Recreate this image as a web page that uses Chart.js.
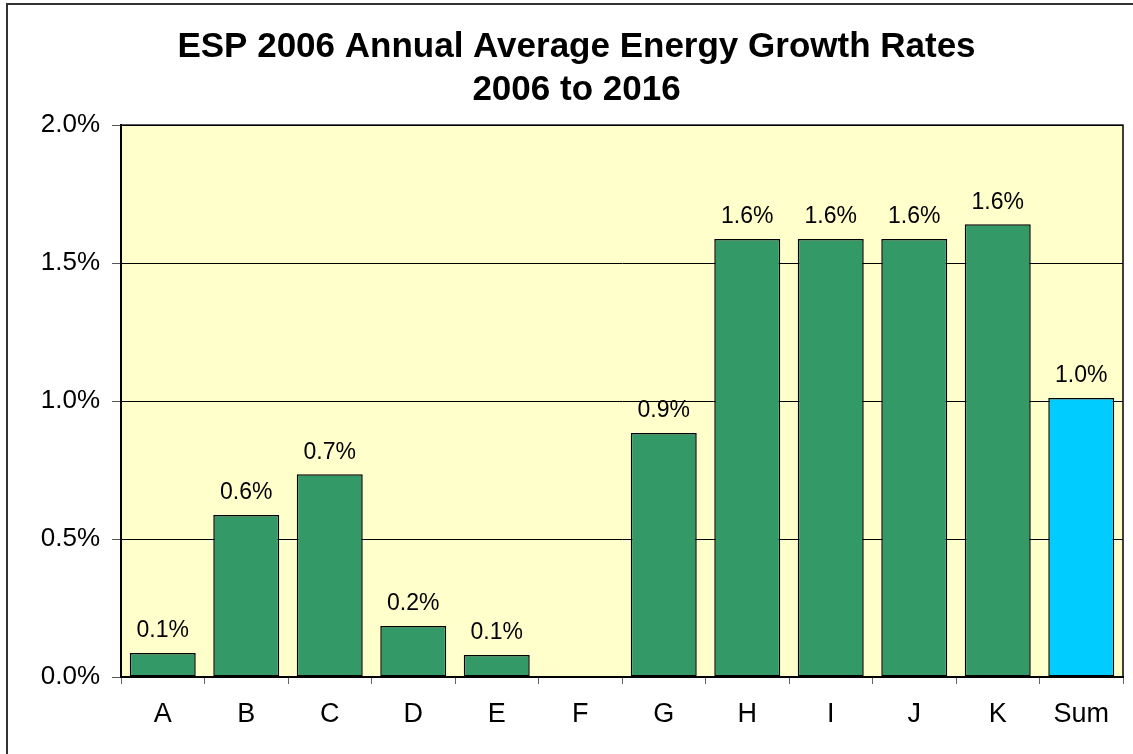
<!DOCTYPE html>
<html>
<head>
<meta charset="utf-8">
<script src="https://cdn.jsdelivr.net/npm/chart.js@4/dist/chart.umd.min.js"></script>
<style>
  html, body { margin: 0; padding: 0; background: #fff; }
  #wrap { width: 1133px; height: 754px; }
</style>
</head>
<body>
<div id="wrap"><canvas id="chart" width="1133" height="754"></canvas></div>
<script>
const categories = ["A", "B", "C", "D", "E", "F", "G", "H", "I", "J", "K", "Sum"];
const growthRates = [0.087, 0.587, 0.735, 0.185, 0.08, null, 0.884, 1.587, 1.587, 1.587, 1.641, 1.011];
const barColors = ["#339966", "#339966", "#339966", "#339966", "#339966", "#339966",
  "#339966", "#339966", "#339966", "#339966", "#339966", "#00CCFF"];
const titleLines = ["ESP 2006 Annual Average Energy Growth Rates", "2006 to 2016"];

const font = "'Liberation Sans', Arial, sans-serif";

// plot background, frame and value labels
const decor = {
  id: "decor",
  beforeDraw(chart) {
    const { ctx, chartArea: a } = chart;
    ctx.save();
    ctx.strokeStyle = "#333";
    ctx.lineWidth = 2;
    ctx.strokeRect(7, 4, 1140, 760);
    ctx.fillStyle = "#FFFFCC";
    ctx.fillRect(a.left, a.top, a.right - a.left, a.bottom - a.top);
    ctx.restore();
  },
  afterDatasetsDraw(chart) {
    const { ctx, chartArea: a } = chart;
    ctx.save();
    ctx.strokeStyle = "#000";
    ctx.lineWidth = 1.5;
    ctx.strokeRect(a.left, a.top, a.right - a.left, a.bottom - a.top);
    ctx.fillStyle = "#000";
    ctx.font = "23px " + font;
    ctx.textAlign = "center";
    ctx.textBaseline = "middle";
    chart.getDatasetMeta(0).data.forEach((bar, i) => {
      const v = growthRates[i];
      if (v == null) return;
      ctx.fillText(v.toFixed(1) + "%", bar.x, bar.y - 22);
    });
    ctx.restore();
  }
};

new Chart(document.getElementById("chart"), {
  type: "bar",
  data: {
    labels: categories,
    datasets: [{
      data: growthRates,
      backgroundColor: barColors,
      borderColor: "#000",
      borderWidth: 1.5,
      borderSkipped: false,
      barPercentage: 0.79,
      categoryPercentage: 1
    }]
  },
  options: {
    responsive: false,
    animation: false,
    layout: { padding: { left: 30, right: 10, top: 0, bottom: 0 } },
    plugins: {
      legend: { display: false },
      tooltip: { enabled: false },
      title: {
        display: true,
        text: titleLines,
        color: "#000",
        font: { family: font, size: 35, weight: "bold", lineHeight: 1.23 },
        padding: { top: 26, bottom: 13 }
      }
    },
    scales: {
      x: {
        grid: { drawOnChartArea: false, drawTicks: true, tickLength: 7, tickColor: "#666" },
        border: { color: "#000", width: 2 },
        ticks: { color: "#000", font: { family: font, size: 27 }, padding: 14 },
        afterFit(scale) { scale.height = 77; }
      },
      y: {
        min: 0,
        max: 2,
        grid: { color: "#000", lineWidth: 1, tickLength: 9, tickColor: "#555" },
        border: { color: "#000", width: 2 },
        ticks: {
          stepSize: 0.5,
          color: "#000",
          font: { family: font, size: 26 },
          padding: 12,
          callback: (v) => v.toFixed(1) + "%"
        },
        afterFit(scale) { scale.width = 91; }
      }
    }
  },
  plugins: [decor]
});
</script>
</body>
</html>
